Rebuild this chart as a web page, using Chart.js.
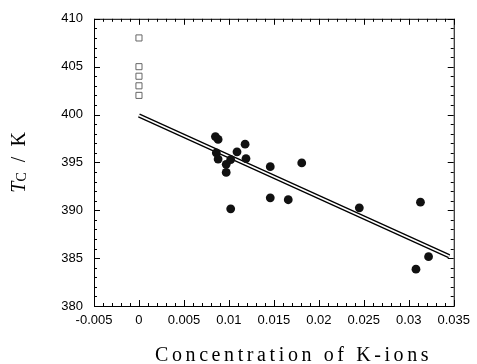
<!DOCTYPE html>
<html>
<head>
<meta charset="utf-8">
<script src="https://cdn.jsdelivr.net/npm/chart.js@4/dist/chart.umd.min.js"></script>
<style>
  html, body { margin: 0; padding: 0; background: #fff; }
  #wrap { width: 477px; height: 364px; position: relative; }
</style>
</head>
<body>
<div id="wrap"><canvas id="myChart"></canvas></div>
<script>
// K-ion concentration vs Curie temperature
const openX = [0, 0, 0, 0, 0];
const openY = [408, 405, 404, 403, 402];

const filledX = [0.0085, 0.0088, 0.0086, 0.0088, 0.0097, 0.0097, 0.0102, 0.0109, 0.0118, 0.0119,
  0.0146, 0.0181, 0.0146, 0.0166, 0.0102, 0.0245, 0.0313, 0.0322, 0.0308];
const filledY = [397.7, 397.4, 396.0, 395.35, 394.8, 393.95, 395.3, 396.1, 396.9, 395.4,
  394.55, 394.95, 391.3, 391.1, 390.15, 390.25, 390.85, 385.15, 383.85];

// fitted line
const fitX = [0, 0.0345];
const fitY = [399.9, 385.2];

const xTicks = [-0.005, 0, 0.005, 0.01, 0.015, 0.02, 0.025, 0.03, 0.035];
const xTickLabels = ['-0.005', '0', '0.005', '0.01', '0.015', '0.02', '0.025', '0.03', '0.035'];
const yTicks = [380, 385, 390, 395, 400, 405, 410];
const yTickLabels = ['380', '385', '390', '395', '400', '405', '410'];

const xTitle = 'Concentration of K-ions';

const toPoints = (xs, ys) => xs.map((x, i) => ({ x, y: ys[i] }));

// frame + inward ticks on all four sides
const frameTicks = {
  id: 'frameTicks',
  afterDraw(chart) {
    const { ctx, chartArea: a, scales } = chart;
    const xs = scales.x;
    const ys = scales.y;
    ctx.save();
    ctx.strokeStyle = '#000';
    ctx.lineWidth = 1;
    ctx.strokeRect(a.left + 0.5, a.top + 0.5, a.right - a.left, a.bottom - a.top);
    ctx.beginPath();
    // x ticks, minor every 0.001
    for (let i = -5; i <= 35; i++) {
      const px = Math.round(xs.getPixelForValue(i / 1000)) + 0.5;
      const len = i % 5 === 0 ? 6 : 3;
      ctx.moveTo(px, a.bottom);
      ctx.lineTo(px, a.bottom - len);
      ctx.moveTo(px, a.top);
      ctx.lineTo(px, a.top + len);
    }
    // y ticks, minor every 1
    for (let v = 380; v <= 410; v++) {
      const py = Math.round(ys.getPixelForValue(v)) + 0.5;
      const len = v % 5 === 0 ? 6 : 3;
      ctx.moveTo(a.left, py);
      ctx.lineTo(a.left + len, py);
      ctx.moveTo(a.right, py);
      ctx.lineTo(a.right - len, py);
    }
    ctx.stroke();
    ctx.restore();
  },
};

// axis titles (subscript + letter spacing are not in Chart.js titles)
const axisTitles = {
  id: 'axisTitles',
  afterDraw(chart) {
    const { ctx, chartArea: a } = chart;
    ctx.save();
    ctx.fillStyle = '#000';

    // y title: T_C / K
    const big = '20px "Liberation Serif", "Times New Roman", serif';
    const bigI = 'italic 20px "Liberation Serif", "Times New Roman", serif';
    const small = '14px "Liberation Serif", "Times New Roman", serif';
    ctx.font = bigI;
    const wT = ctx.measureText('T').width;
    ctx.font = small;
    const wC = ctx.measureText('C').width;
    ctx.font = big;
    const rest = '  /  K';
    const wR = ctx.measureText(rest).width;
    const total = wT + wC + wR;
    const cy = (a.top + a.bottom) / 2;
    ctx.translate(25, cy);
    ctx.rotate(-Math.PI / 2);
    ctx.textBaseline = 'alphabetic';
    ctx.textAlign = 'left';
    let x0 = -total / 2;
    ctx.font = bigI;
    ctx.fillText('T', x0, 0);
    x0 += wT;
    ctx.font = small;
    ctx.fillText('C', x0, 1);
    x0 += wC;
    ctx.font = big;
    ctx.fillText(rest, x0, 0);
    ctx.restore();

    // x title
    ctx.save();
    ctx.fillStyle = '#000';
    ctx.font = '20px "Liberation Serif", "Times New Roman", serif';
    ctx.letterSpacing = '3.6px';
    ctx.textAlign = 'left';
    ctx.textBaseline = 'alphabetic';
    ctx.fillText(xTitle, 155, 361);
    ctx.restore();
  },
};

const tickFont = { family: '"Liberation Sans", Arial, sans-serif', size: 13 };

const myChart = new Chart(document.getElementById('myChart').getContext('2d'), {
  type: 'scatter',
  data: {
    datasets: [
      {
        label: 'filled',
        data: toPoints(filledX, filledY),
        pointStyle: 'circle',
        pointRadius: 4.4,
        pointBackgroundColor: '#111',
        pointBorderColor: '#111',
        pointBorderWidth: 0,
        order: 0,
      },
      {
        label: 'open',
        data: toPoints(openX, openY),
        pointStyle: 'rect',
        pointRadius: 4.3,
        pointBackgroundColor: '#fff',
        pointBorderColor: '#666',
        pointBorderWidth: 1,
        order: 0,
      },
      {
        label: 'fit white',
        type: 'line',
        data: toPoints(fitX, fitY),
        borderColor: '#fff',
        borderWidth: 1.7,
        pointRadius: 0,
        order: 1,
      },
      {
        label: 'fit black',
        type: 'line',
        data: toPoints(fitX, fitY),
        borderColor: '#000',
        borderWidth: 4.4,
        pointRadius: 0,
        order: 2,
      },
    ],
  },
  options: {
    responsive: true,
    maintainAspectRatio: false,
    animation: false,
    layout: { padding: { top: 18, right: 20, left: 0, bottom: 0 } },
    plugins: {
      legend: { display: false },
      tooltip: { enabled: false },
    },
    scales: {
      x: {
        type: 'linear',
        min: -0.005,
        max: 0.035,
        grid: { display: false, drawTicks: false },
        border: { display: false },
        afterBuildTicks: scale => {
          scale.ticks = xTicks.map(v => ({ value: v }));
        },
        afterFit: scale => {
          scale.height = 58;
        },
        ticks: {
          color: '#000',
          font: tickFont,
          padding: 7,
          maxRotation: 0,
          autoSkip: false,
          callback: (v, i) => xTickLabels[i],
        },
      },
      y: {
        type: 'linear',
        min: 380,
        max: 410,
        grid: { display: false, drawTicks: false },
        border: { display: false },
        afterBuildTicks: scale => {
          scale.ticks = yTicks.map(v => ({ value: v }));
        },
        afterFit: scale => {
          scale.width = 94;
        },
        ticks: {
          color: '#000',
          font: tickFont,
          padding: 11,
          autoSkip: false,
          callback: (v, i) => yTickLabels[i],
        },
      },
    },
  },
  plugins: [frameTicks, axisTitles],
});
</script>
</body>
</html>
